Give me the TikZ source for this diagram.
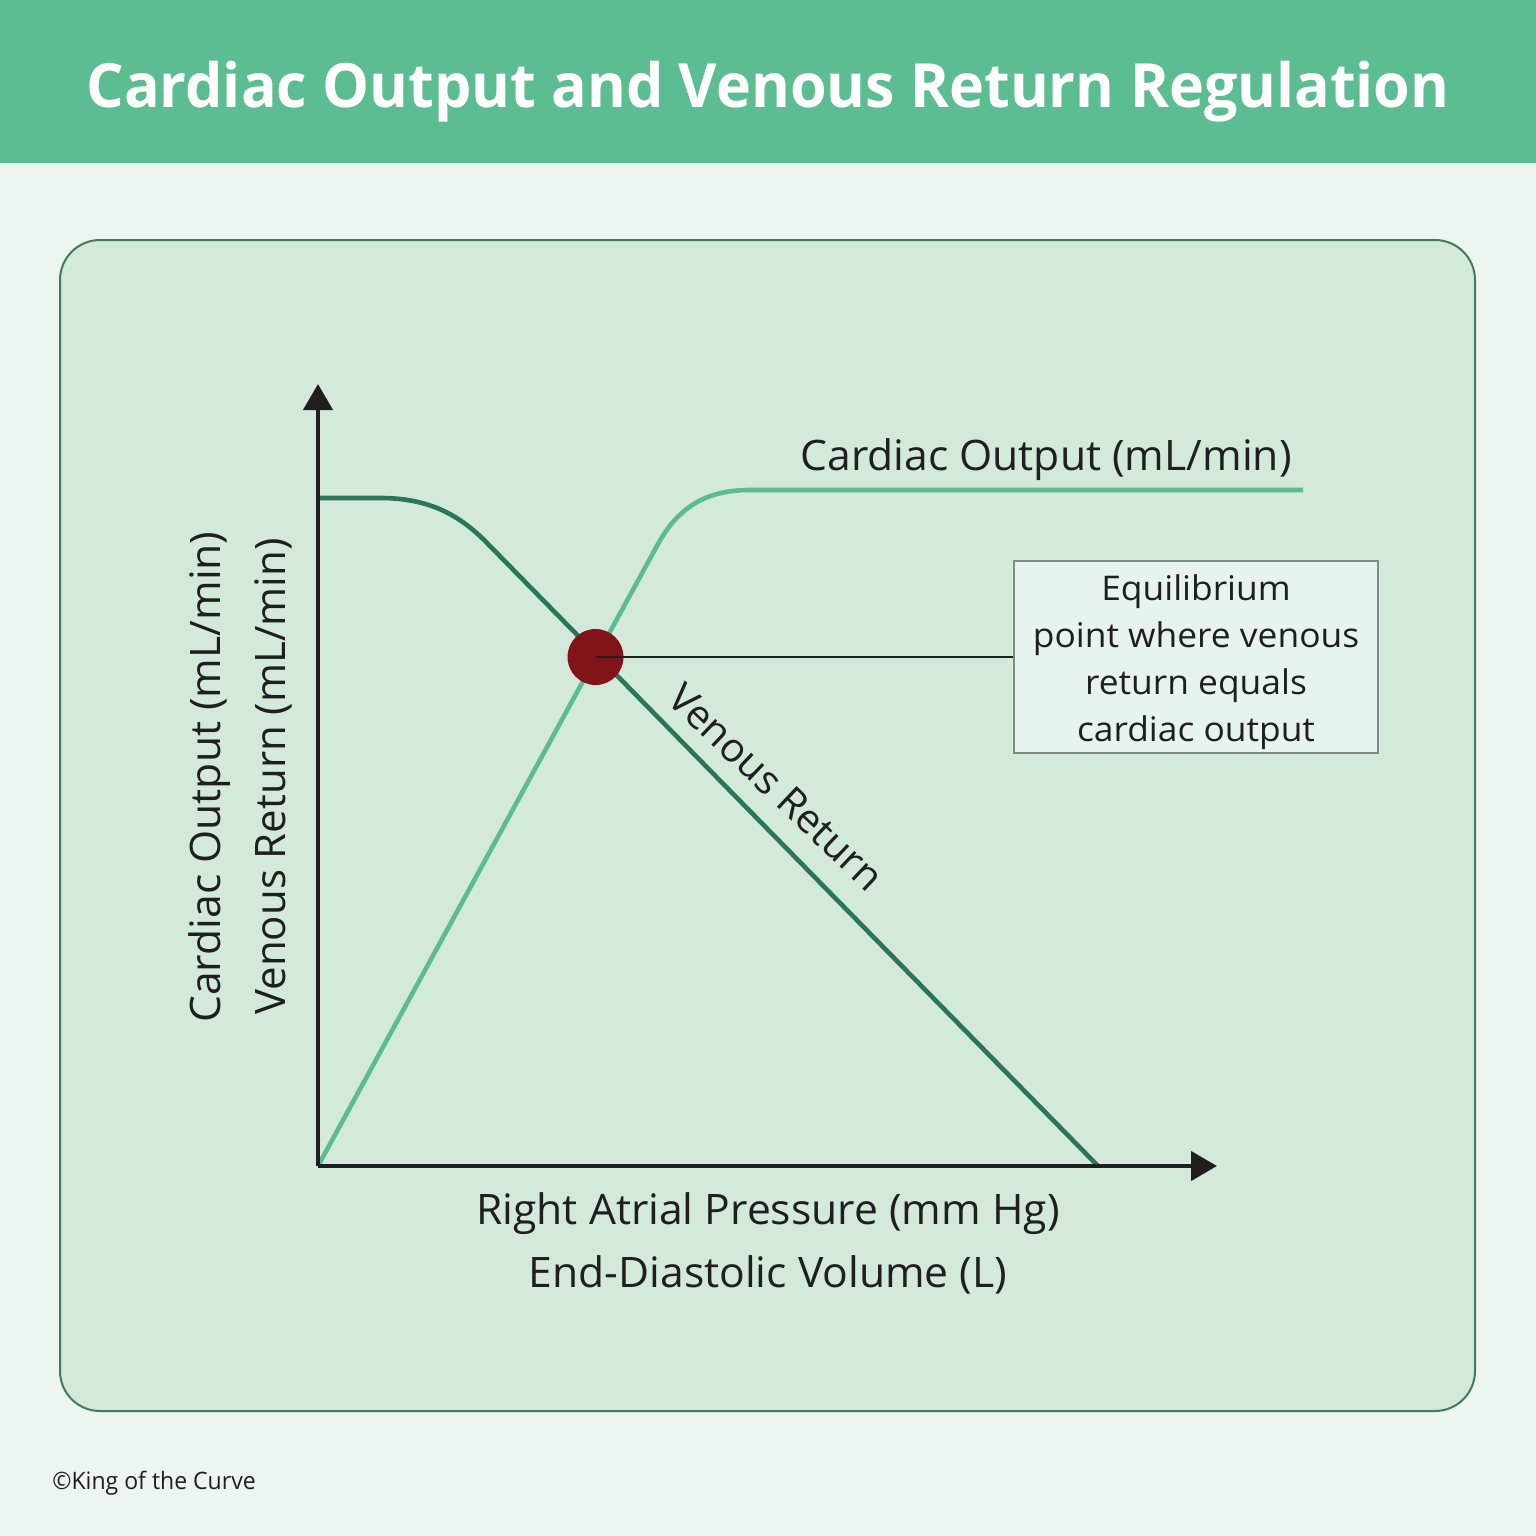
\documentclass[tikz,border=0pt]{standalone}
\usepackage{fontspec}
\setmainfont{Open Sans}
\usetikzlibrary{arrows.meta}
\definecolor{bannerc}{HTML}{5BBD91}
\definecolor{pagec}{HTML}{ECF5EE}
\definecolor{panelc}{HTML}{D3E9DA}
\definecolor{panelb}{HTML}{3F7D5C}
\definecolor{venc}{HTML}{2A7659}
\definecolor{coc}{HTML}{5DBB93}
\definecolor{axisc}{HTML}{1F1F1F}
\definecolor{dotc}{HTML}{811418}
\definecolor{boxc}{HTML}{E6F3EF}
\definecolor{boxb}{HTML}{7E8C86}
\newfontfamily\labfont[FakeStretch=1.015]{Open Sans}
\newfontfamily\boxfont[FakeStretch=1.04]{Open Sans}
\newfontfamily\titlefont[FakeStretch=0.97,BoldFont={Open Sans Bold}]{Open Sans}
\newfontfamily\copyfont[FakeStretch=0.96]{Open Sans}
\tikzset{
  lab/.style={text=axisc,inner sep=0pt,font=\labfont\fontsize{21}{25}\selectfont},
  curve/.style={line width=2.3pt,line join=round},
  axisl/.style={line width=2.2pt,color=axisc},
  axtip/.style={-{Triangle[length=13pt,width=14.5pt]}},
}
\begin{document}
\begin{tikzpicture}[x=0.5pt,y=-0.5pt]
\useasboundingbox (0,0) rectangle (1536,1536);
\fill[pagec] (0,0) rectangle (1536,1536);
\fill[bannerc] (0,0) rectangle (1536,163);
\node[text=white,inner sep=0pt,font=\titlefont\fontsize{30.5}{36}\selectfont\bfseries] (title) at (768,92) {Cardiac Output and Venous Return Regulation};
\draw[panelb,fill=panelc,line width=1pt,rounded corners=20pt] (60,240) rectangle (1475,1411);
\coordinate (orig) at (318,1166);
\coordinate (ytip) at (318,384);
\coordinate (xtip) at (1217,1166);
\coordinate (cos) at (1303,490);
\coordinate (vrs) at (318,498);
\coordinate (vre) at (1098,1166);
\draw[coc,curve] (orig) -- (658,544) .. controls (680,504) and (710,490) .. (750,490) -- (cos);
\draw[venc,curve] (vrs) -- (380,498) .. controls (425,498) and (457,512) .. (487,543) -- (vre);
\draw[axisl,axtip] (orig) -- (ytip);
\draw[axisl,axtip] (orig) -- (xtip);
\node[circle,fill=dotc,minimum size=28pt,inner sep=0pt] (eq) at (595.5,657) {};
\node[draw=boxb,fill=boxc,line width=0.8pt,minimum width=182pt,minimum height=96pt,inner sep=0pt] (box) at (1196,657) {};
\node[inner sep=0pt,align=center,text=axisc,font=\boxfont\fontsize{17}{23.4}\selectfont] (boxtext) at (1196,662) {Equilibrium\\point where venous\\return equals\\cardiac output};
\draw[axisc,line width=0.9pt] (eq.center) -- (box.west);
\node[lab] (colab) at (1046,460) {Cardiac Output (mL/min)};
\node[lab,rotate=-43.5,font=\labfont\fontsize{20}{24}\selectfont] (vrlab) at (776,787) {Venous Return};
\node[lab,rotate=90] (yl1) at (210,777) {Cardiac Output (mL/min)};
\node[lab,rotate=90,font=\fontsize{21}{25}\selectfont] (yl2) at (273,776.5) {Venous Return (mL/min)};
\node[lab] (xl1) at (768,1214) {Right Atrial Pressure (mm Hg)};
\node[lab] (xl2) at (768,1275) {End-Diastolic Volume (L)};
\node[text=axisc,inner sep=0pt,anchor=west,font=\copyfont\fontsize{12}{14}\selectfont] (copy) at (52,1483) {©King of the Curve};
\end{tikzpicture}
\end{document}
